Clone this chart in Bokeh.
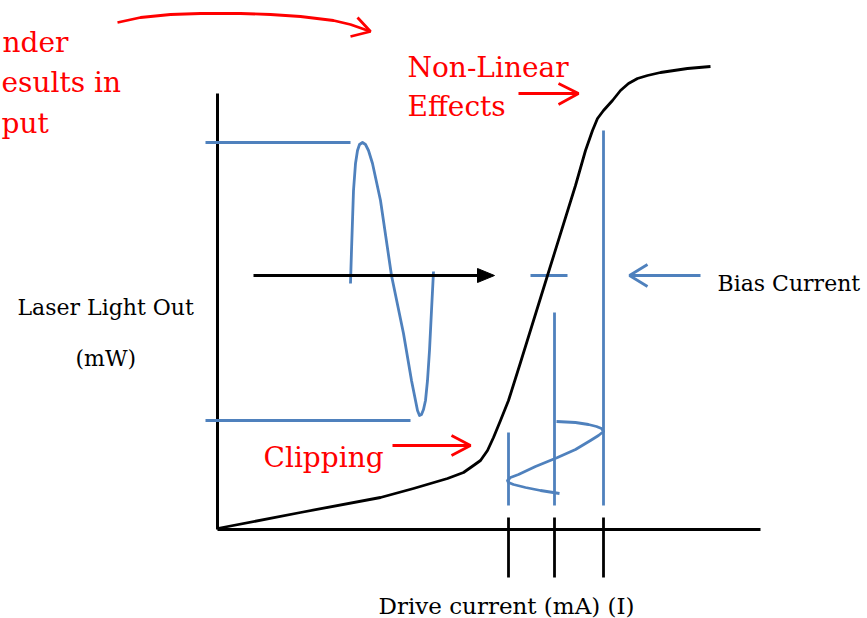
from bokeh.plotting import figure
from bokeh.models import Range1d
from bokeh.core.properties import value
from bokeh.embed import file_html
from bokeh.resources import INLINE

# ---- diagram geometry (picture pixel coordinates, y downward) ----
# L-I transfer curve (laser output vs drive current)
curve_x = [217, 300, 380, 413, 447, 463, 473, 480, 487, 493, 500, 508, 520, 547, 575, 585, 592, 597, 603, 612, 620, 628, 637, 647, 660, 687, 710]
curve_y = [528, 512, 497, 488, 478, 472, 465, 460, 450, 437, 420, 400, 362, 275, 185, 150, 130, 118, 110, 100, 90, 83, 78, 75, 72, 68, 66]

# output light waveform (clipped sine)
out_x = [350, 351, 352, 353, 355, 357, 359, 362, 365, 368, 372, 380, 391, 403, 411, 415, 417, 419, 421, 423, 425, 427, 429, 431, 433]
out_y = [283, 250, 220, 190, 163, 150, 144, 142, 144, 150, 163, 200, 275, 333, 380, 400, 410, 415, 414, 409, 400, 380, 350, 310, 271]

# input drive current waveform
in_x = [559, 540, 525, 513, 508, 507, 510, 518, 535, 557, 575, 590, 598, 603, 601, 596, 588, 575, 556]
in_y = [493, 490, 487, 484, 482, 480, 477, 474, 466, 457, 449, 440, 435, 431, 428, 426, 424, 422, 421]

# drive current levels (tick positions on x axis)
level_x = [508, 554, 603]
level_top = [432, 312, 130]
level_bottom = [505, 505, 505]

# output extremes
ext_y = [142, 420]
ext_x0 = [205, 205]
ext_x1 = [350, 410]

axis_x0, axis_x1, axis_y0, axis_y1 = 217, 760, 93, 529

labels_black = ["Laser Light Out", "(mW)", "Bias Current"]
labels_black_x = [17, 75, 717]
labels_black_y = [307, 358, 283]

xlabel = "Drive current (mA) (I)"
xlabel_x, xlabel_y = 378, 605

labels_red = ["Non-Linear", "Effects", "Clipping"]
labels_red_x = [407, 407, 263]
labels_red_y = [67, 106, 457]

labels_red_cut = ["nder", "esults in", "put"]
labels_red_cut_x = [2, 1, 1]
labels_red_cut_y = [42, 82, 123]

BLUE = "#4F81BD"
RED = "#FF0000"
FONT = "DejaVu Serif"

p = figure(width=867, height=618, output_backend="svg", toolbar_location=None,
           x_range=Range1d(0, 867), y_range=Range1d(618, 0),
           min_border=0, outline_line_color=None, background_fill_color="white",
           border_fill_color="white")
p.xaxis.visible = False
p.yaxis.visible = False
p.grid.visible = False

# axes of the diagram
p.line([axis_x0, axis_x0], [axis_y0, axis_y1], line_color="black", line_width=3)
p.line([axis_x0, axis_x1], [axis_y1, axis_y1], line_color="black", line_width=3)
# ticks
p.segment(x0=level_x, y0=[517] * 3, x1=level_x, y1=[577] * 3, line_color="black", line_width=2.8)

# blue level lines
p.segment(x0=level_x, y0=level_top, x1=level_x, y1=level_bottom, line_color=BLUE, line_width=2.8)
p.segment(x0=ext_x0, y0=ext_y, x1=ext_x1, y1=ext_y, line_color=BLUE, line_width=2.8)
p.line([530, 567], [275, 275], line_color=BLUE, line_width=2.8)

# waveforms
p.line(out_x, out_y, line_color=BLUE, line_width=2.8, line_join="round")
p.line(in_x, in_y, line_color=BLUE, line_width=2.8, line_join="round")

# transfer curve
p.line(curve_x, curve_y, line_color="black", line_width=2.8, line_join="round")

# black arrow
p.line([253, 482], [275, 275], line_color="black", line_width=2.8)
p.patch([494, 477, 477], [275, 268, 282], fill_color="black", line_color="black")

# bias arrow (blue, open head)
p.line([700, 629], [275, 275], line_color=BLUE, line_width=2.8)
p.line([647, 629, 647], [264, 275, 286], line_color=BLUE, line_width=2.8)

# red arrows
p.line([392, 470], [445, 445], line_color=RED, line_width=2.8)
p.line([451, 470, 451], [435, 445, 455], line_color=RED, line_width=2.8)
p.line([518, 578], [93, 93], line_color=RED, line_width=2.8)
p.line([558, 578, 558], [83, 93, 104], line_color=RED, line_width=2.8)
arc_x = [117, 140, 170, 200, 240, 270, 300, 333, 350, 370]
arc_y = [22, 17, 14, 13, 13, 14, 16, 20, 24, 31]
p.line(arc_x, arc_y, line_color=RED, line_width=2.8, line_join="round")
p.line([357, 370, 350], [17, 31, 36], line_color=RED, line_width=2.8)

# texts
p.text(x=labels_black_x, y=labels_black_y, text=labels_black, text_font=value(FONT),
       text_font_size="22px", text_color="black", text_baseline="alphabetic", text_align="left")
p.text(x=[xlabel_x], y=[xlabel_y], text=[xlabel], text_font=value(FONT),
       text_font_size="23px", text_color="black", text_baseline="alphabetic", text_align="left")
p.text(x=labels_red_x, y=labels_red_y, text=labels_red, text_font=value(FONT),
       text_font_size="28px", text_color=RED, text_baseline="alphabetic", text_align="left")
p.text(x=labels_red_cut_x, y=labels_red_cut_y, text=labels_red_cut, text_font=value(FONT),
       text_font_size="28px", text_color=RED, text_baseline="alphabetic", text_align="left")

open("out.html", "w").write(file_html(p, INLINE))
